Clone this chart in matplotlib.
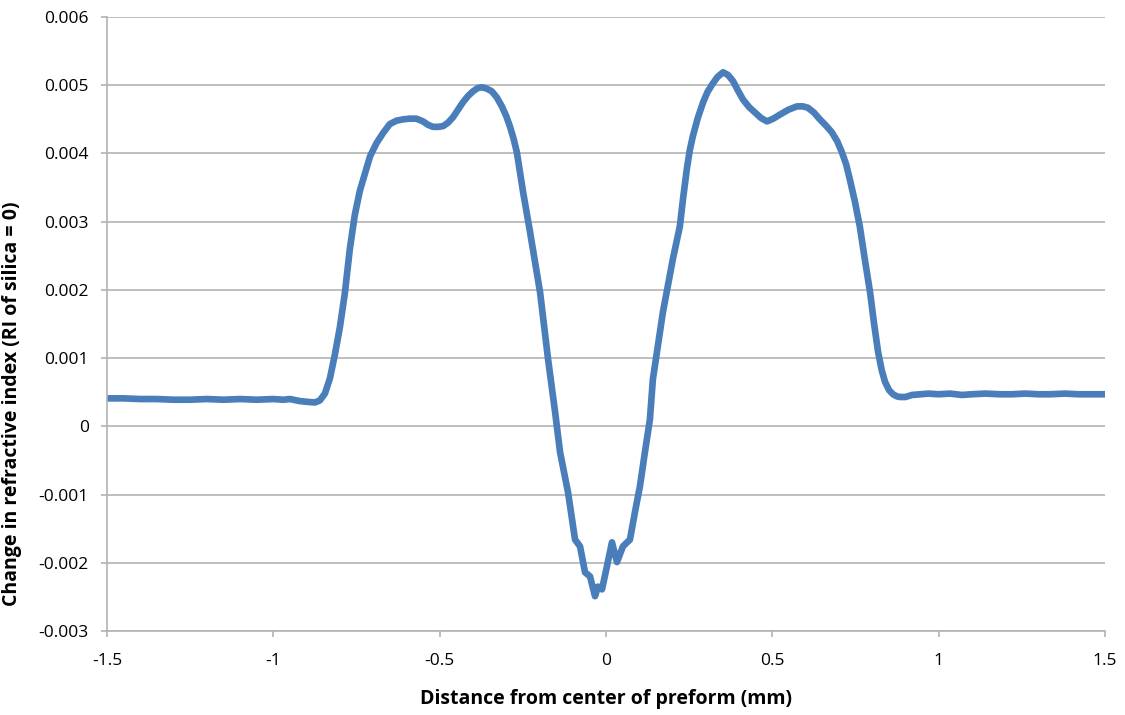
import matplotlib.pyplot as plt
import numpy as np

# Профиль показателя преломления по диаметру преформы
dist_mm = np.array([
    -1.5, -1.45, -1.40, -1.35, -1.30, -1.25, -1.20, -1.15, -1.10, -1.05,
    -1.00, -0.97, -0.95, -0.92, -0.90, -0.875, -0.860, -0.845, -0.830,
    -0.815, -0.800, -0.785, -0.770, -0.755, -0.740, -0.725, -0.709, -0.690,
    -0.670, -0.650, -0.630, -0.610, -0.590, -0.570, -0.550, -0.535, -0.520,
    -0.505, -0.490, -0.475, -0.460, -0.445, -0.430, -0.415, -0.400, -0.385,
    -0.373, -0.358, -0.343, -0.328, -0.313, -0.300, -0.289, -0.278, -0.268,
    -0.249, -0.228, -0.198, -0.174, -0.153, -0.138, -0.114, -0.093, -0.078,
    -0.063, -0.048, -0.033, -0.024, -0.012, 0.003, 0.018, 0.033, 0.051,
    0.072, 0.087, 0.102, 0.117, 0.132, 0.141, 0.171, 0.201, 0.222, 0.232,
    0.243, 0.252, 0.261, 0.276, 0.292, 0.305, 0.319, 0.335, 0.352, 0.367,
    0.382, 0.397, 0.412, 0.430, 0.448, 0.466, 0.484, 0.503, 0.523, 0.548,
    0.574, 0.592, 0.607, 0.625, 0.643, 0.661, 0.679, 0.695, 0.709, 0.722,
    0.733, 0.748, 0.763, 0.778, 0.794, 0.806, 0.818, 0.829, 0.839, 0.851,
    0.863, 0.874, 0.884, 0.900, 0.920, 0.944, 0.970, 1.000, 1.034, 1.07,
    1.10, 1.14, 1.184, 1.22, 1.26, 1.30, 1.335, 1.38, 1.42, 1.46, 1.5,
])
delta_ri = np.array([
    0.41, 0.41, 0.40, 0.40, 0.39, 0.39, 0.40, 0.39, 0.40, 0.39,
    0.40, 0.39, 0.40, 0.37, 0.36, 0.35, 0.38, 0.48, 0.70,
    1.05, 1.45, 1.95, 2.60, 3.10, 3.45, 3.70, 3.96, 4.15,
    4.30, 4.43, 4.48, 4.50, 4.51, 4.51, 4.47, 4.42, 4.39,
    4.39, 4.40, 4.45, 4.53, 4.64, 4.75, 4.84, 4.91, 4.96,
    4.97, 4.95, 4.91, 4.82, 4.69, 4.55, 4.40, 4.22, 4.02,
    3.43, 2.84, 1.96, 0.98, 0.21, -0.38, -0.97, -1.66, -1.76,
    -2.14, -2.20, -2.49, -2.35, -2.39, -2.05, -1.70, -1.99, -1.76,
    -1.66, -1.26, -0.88, -0.38, 0.10, 0.69, 1.67, 2.45, 2.93, 3.35,
    3.77, 4.05, 4.25, 4.52, 4.75, 4.90, 5.01, 5.12, 5.19, 5.15,
    5.06, 4.92, 4.79, 4.68, 4.60, 4.52, 4.47, 4.51, 4.57, 4.64,
    4.69, 4.69, 4.67, 4.60, 4.50, 4.41, 4.31, 4.18, 4.02, 3.84,
    3.62, 3.30, 2.93, 2.45, 1.96, 1.50, 1.09, 0.82, 0.65, 0.53,
    0.47, 0.44, 0.43, 0.43, 0.46, 0.47, 0.48, 0.47, 0.48, 0.46,
    0.47, 0.48, 0.47, 0.47, 0.48, 0.47, 0.47, 0.48, 0.47, 0.47, 0.47,
]) * 1e-3

x_ticks = [-1.5, -1, -0.5, 0, 0.5, 1, 1.5]
y_ticks = [-0.003, -0.002, -0.001, 0, 0.001, 0.002, 0.003, 0.004, 0.005, 0.006]

plt.rcParams['font.family'] = ['Open Sans', 'DejaVu Sans']

fig = plt.figure(figsize=(11.25, 7.15), dpi=100)
ax = fig.add_axes([0.0951, 0.1175, 0.8871, 0.8587])

ax.plot(dist_mm, delta_ri, color='#4a7ebb', lw=4.8,
        solid_joinstyle='round', solid_capstyle='round')

ax.set_xlim(-1.5, 1.5)
ax.set_ylim(-0.003, 0.006)
ax.set_xticks(x_ticks)
ax.set_xticklabels(['%g' % v for v in x_ticks])
ax.set_yticks(y_ticks)
ax.set_yticklabels(['0' if v == 0 else '%.3f' % v for v in y_ticks])

ax.grid(axis='y', color='#b3b3b3', lw=1.2)
ax.set_axisbelow(True)
for s in ['top', 'right']:
    ax.spines[s].set_visible(False)
for s in ['left', 'bottom']:
    ax.spines[s].set_color('#b3b3b3')
    ax.spines[s].set_linewidth(1.2)
ax.tick_params(colors='#b3b3b3', labelcolor='black', labelsize=12.5,
               length=4, width=1.2)
ax.tick_params(axis='y', pad=9)
ax.tick_params(axis='x', pad=12)

ax.set_xlabel('Distance from center of preform (mm)', fontsize=14,
              fontweight='bold', labelpad=14)
ax.set_ylabel('Change in refractive index (RI of silica = 0)', fontsize=14,
              fontweight='bold')
ax.yaxis.set_label_coords(-0.085, 0.37)

fig.savefig('out.png', dpi=100)
